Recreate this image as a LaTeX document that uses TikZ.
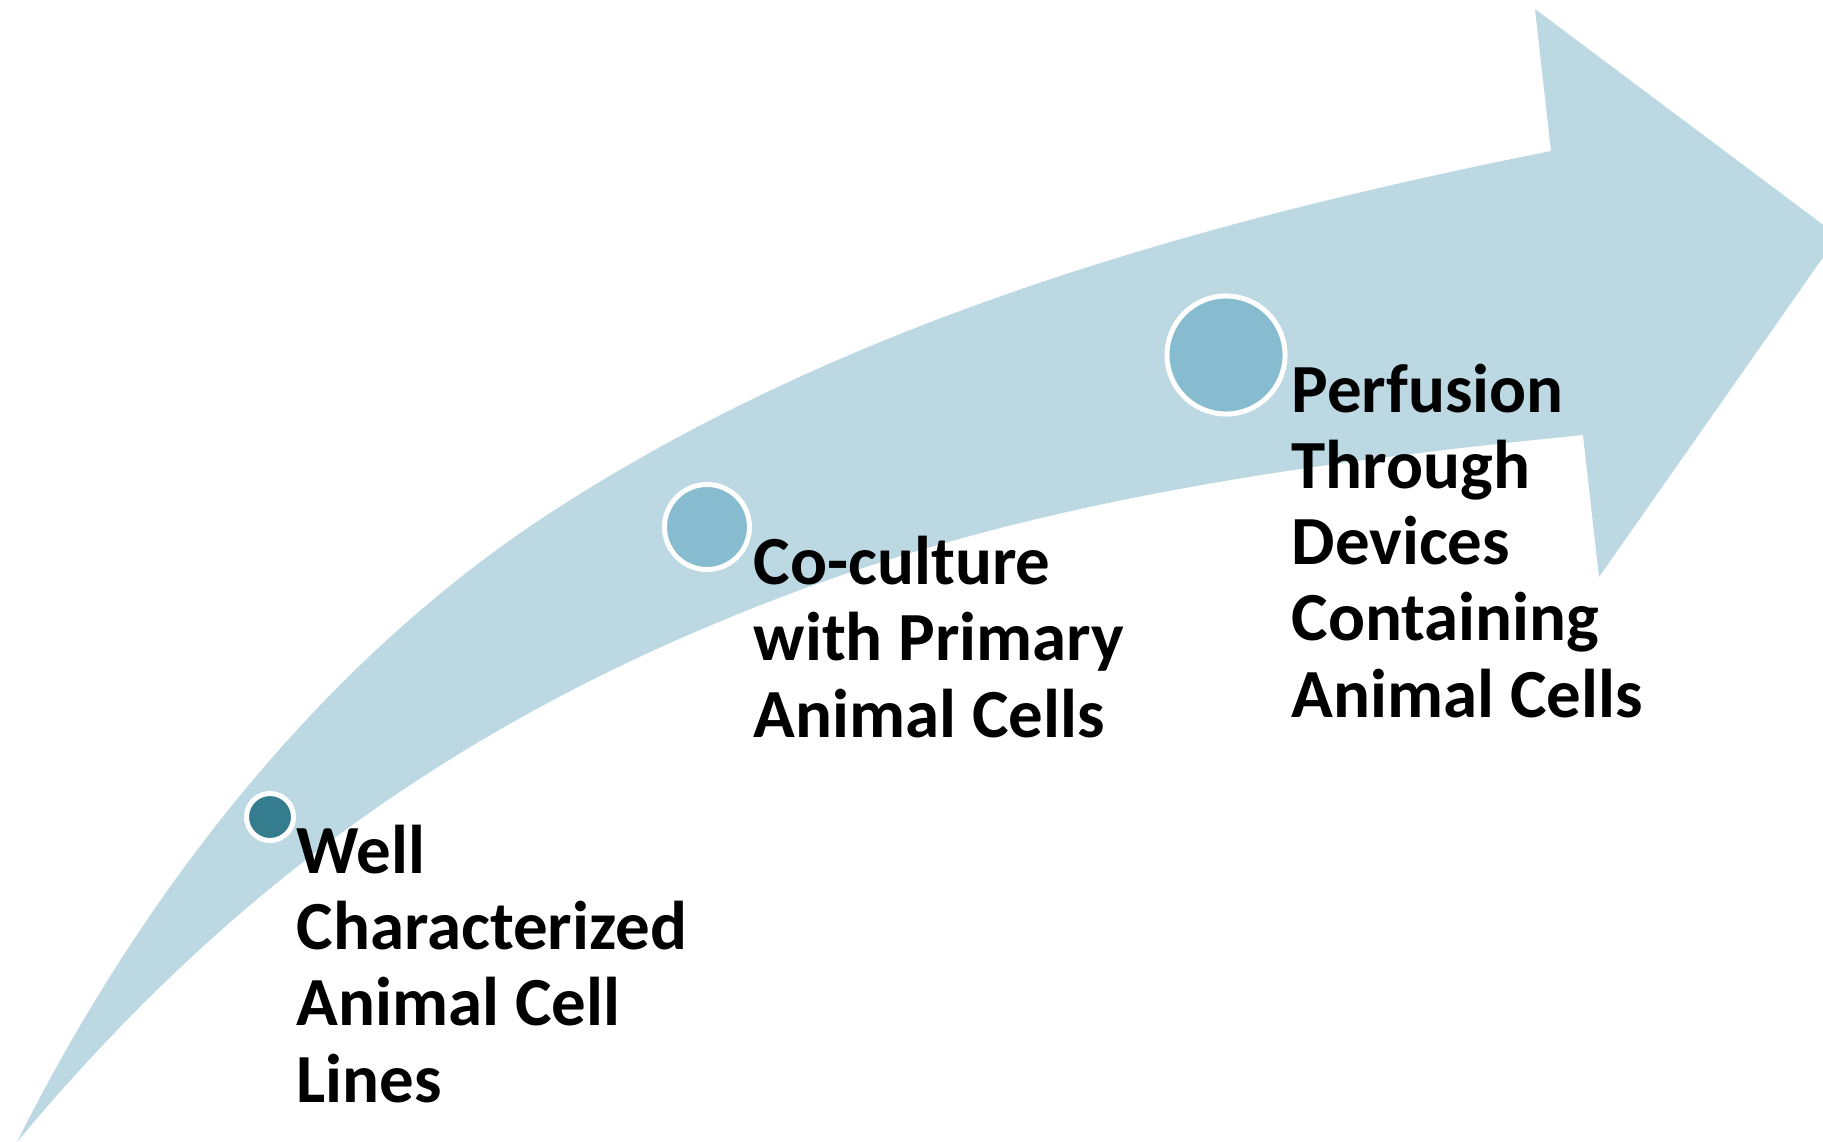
\documentclass[tikz,border=0pt]{standalone}
\usepackage{fontspec}
\setmainfont{Carlito}
\definecolor{bandblue}{HTML}{BCD8E2}
\definecolor{dotdark}{HTML}{367C8F}
\definecolor{dotlight}{HTML}{87BBCF}
\begin{document}
\begin{tikzpicture}[x=0.01cm,y=-0.01cm,
  dot/.style={circle,draw=white,line width=1.42pt,inner sep=0pt},
  lbl/.style={anchor=base west,inner sep=0pt,align=left,text=black,
    font=\fontsize{19.6pt}{21.62pt}\selectfont\bfseries}]
\useasboundingbox (0,0) rectangle (1823,1142);
\begin{scope}
\clip (0,0) rectangle (1823,1142);
\fill[bandblue] (17,1142)
  .. controls (140,896) and (320,663) .. (550,513)
  .. controls (847.5,319.5) and (1203,220.6) .. (1551,151)
  -- (1535,9) -- (1838,236) -- (1599,577) -- (1583,435)
  .. controls (1318.3,461.5) and (1049.5,497.7) .. (800,590)
  .. controls (460,716) and (222,896) .. (17,1142)
  -- cycle;
\end{scope}
\node[dot,fill=dotdark,minimum size=0.47cm] (c1) at (270,817) {};
\node[dot,fill=dotlight,minimum size=0.85cm] (c2) at (707,527) {};
\node[dot,fill=dotlight,minimum size=1.18cm] (c3) at (1226,355) {};
\node[lbl] (t1) at (296,1102) {Well\\Characterized\\Animal Cell\\Lines};
\node[lbl] (t2) at (753,737) {Co-culture\\with Primary\\Animal Cells};
\node[lbl] (t3) at (1291,717) {Perfusion\\Through\\Devices\\Containing\\Animal Cells};
\end{tikzpicture}
\end{document}
